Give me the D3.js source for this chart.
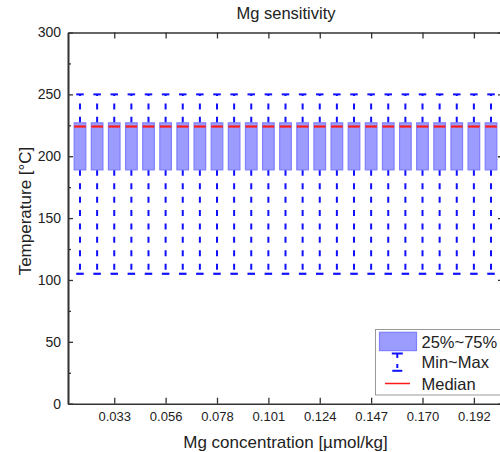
<!DOCTYPE html>
<html>
<head>
<meta charset="utf-8">
<script src="https://cdn.jsdelivr.net/npm/d3@7"></script>
<style>
  html, body { margin: 0; padding: 0; background: #fff; }
  svg { display: block; }
  text { font-family: "Liberation Sans", Arial, sans-serif; fill: #222; }
</style>
</head>
<body>
<div id="chart"></div>
<script>
// Mg concentration levels (µmol/kg), one box per level
const concentrations = ["0.018","0.025","0.033","0.041","0.048","0.056","0.063","0.071","0.078",
  "0.086","0.094","0.101","0.109","0.116","0.124","0.132","0.139","0.147","0.155","0.162",
  "0.170","0.177","0.185","0.192","0.200"];
// Labelled concentration ticks on the x axis
const tickLabels = ["0.033","0.056","0.078","0.101","0.124","0.147","0.170","0.192"];

// Temperature statistics (°C) for each concentration level
const minValues    = [105,105,105,105,105,105,105,105,105,105,105,105,105,105,105,105,105,105,105,105,105,105,105,105,105];
const q1Values     = [189,189,189,189,189,189,189,189,189,189,189,189,189,189,189,189,189,189,189,189,189,189,189,189,189];
const medianValues = [224,224,224,224,224,224,224,224,224,224,224,224,224,224,224,224,224,224,224,224,224,224,224,224,224];
const q3Values     = [227,227,227,227,227,227,227,227,227,227,227,227,227,227,227,227,227,227,227,227,227,227,227,227,227];
const maxValues    = [250,250,250,250,250,250,250,250,250,250,250,250,250,250,250,250,250,250,250,250,250,250,250,250,250];

const yTicks = [0, 50, 100, 150, 200, 250, 300];
const yMinorTicks = [25, 75, 125, 175, 225, 275];

const W = 500, H = 452;
const plot = { left: 68, right: 503, top: 32.5, bottom: 403.7 };

const rows = concentrations.map((c, i) => ({
  c, min: minValues[i], q1: q1Values[i], med: medianValues[i], q3: q3Values[i], max: maxValues[i]
}));

const svg = d3.select("#chart").append("svg").attr("width", W).attr("height", H);

const x = d3.scalePoint().domain(concentrations).range([plot.left, plot.right]).padding(0.7);
const y = d3.scaleLinear().domain([0, 300]).range([plot.bottom, plot.top]);

const boxW = 11.6, capW = 7.5;
const boxFill = "#9c9cff", boxStroke = "#7f7fff", whiskerColor = "#1010ff", medianColor = "#ff1a1a";

// Whiskers (dashed) with short caps
const g = svg.append("g");
g.selectAll("line.wtop").data(rows).join("line")
  .attr("class", "wtop")
  .attr("x1", d => x(d.c)).attr("x2", d => x(d.c))
  .attr("y1", d => y(d.q3)).attr("y2", d => y(d.max))
  .attr("stroke", whiskerColor).attr("stroke-width", 2).attr("stroke-dasharray", "6 7.4");
g.selectAll("line.wbot").data(rows).join("line")
  .attr("class", "wbot")
  .attr("x1", d => x(d.c)).attr("x2", d => x(d.c))
  .attr("y1", d => y(d.q1)).attr("y2", d => y(d.min))
  .attr("stroke", whiskerColor).attr("stroke-width", 2).attr("stroke-dasharray", "6 7.4");
g.selectAll("line.ctop").data(rows).join("line")
  .attr("class", "ctop")
  .attr("x1", d => x(d.c) - capW / 2).attr("x2", d => x(d.c) + capW / 2)
  .attr("y1", d => y(d.max)).attr("y2", d => y(d.max))
  .attr("stroke", whiskerColor).attr("stroke-width", 2);
g.selectAll("line.cbot").data(rows).join("line")
  .attr("class", "cbot")
  .attr("x1", d => x(d.c) - capW / 2).attr("x2", d => x(d.c) + capW / 2)
  .attr("y1", d => y(d.min)).attr("y2", d => y(d.min))
  .attr("stroke", whiskerColor).attr("stroke-width", 2.2);

// Interquartile boxes
g.selectAll("rect.box").data(rows).join("rect")
  .attr("class", "box")
  .attr("x", d => x(d.c) - boxW / 2).attr("width", boxW)
  .attr("y", d => y(d.q3)).attr("height", d => y(d.q1) - y(d.q3))
  .attr("fill", boxFill).attr("stroke", boxStroke).attr("stroke-width", 1.2);

// Medians
g.selectAll("line.med").data(rows).join("line")
  .attr("class", "med")
  .attr("x1", d => x(d.c) - boxW / 2).attr("x2", d => x(d.c) + boxW / 2)
  .attr("y1", d => y(d.med)).attr("y2", d => y(d.med))
  .attr("stroke", medianColor).attr("stroke-width", 2.2);

// Axes
function styleAxis(sel) {
  sel.select(".domain").attr("stroke", "#333").attr("stroke-width", 1.6);
  sel.selectAll(".tick line").attr("stroke", "#333").attr("stroke-width", 1.3);
}

const axB = svg.append("g").attr("transform", `translate(0,${plot.bottom})`)
  .call(d3.axisBottom(x).tickValues(tickLabels).tickSizeInner(-6).tickSizeOuter(0).tickPadding(8));
axB.selectAll("text").attr("font-size", 13).attr("fill", "#222")
  .attr("font-family", "'Liberation Sans', Arial, sans-serif");
styleAxis(axB);

const axT = svg.append("g").attr("transform", `translate(0,${plot.top})`)
  .call(d3.axisTop(x).tickValues(tickLabels).tickSizeInner(-6).tickSizeOuter(0).tickFormat(""));
styleAxis(axT);

const axL = svg.append("g").attr("transform", `translate(${plot.left},0)`)
  .call(d3.axisLeft(y).tickValues(yTicks).tickSizeInner(-5).tickSizeOuter(0).tickPadding(7));
axL.selectAll("text").attr("font-size", 14).attr("fill", "#222")
  .attr("font-family", "'Liberation Sans', Arial, sans-serif");
styleAxis(axL);
const axLm = svg.append("g").attr("transform", `translate(${plot.left},0)`)
  .call(d3.axisLeft(y).tickValues(yMinorTicks).tickSizeInner(-3).tickSizeOuter(0).tickFormat(""));
styleAxis(axLm);

const axR = svg.append("g").attr("transform", `translate(${plot.right},0)`)
  .call(d3.axisRight(y).tickValues(yTicks).tickSizeInner(-5).tickSizeOuter(0).tickFormat(""));
styleAxis(axR);
const axRm = svg.append("g").attr("transform", `translate(${plot.right},0)`)
  .call(d3.axisRight(y).tickValues(yMinorTicks).tickSizeInner(-3).tickSizeOuter(0).tickFormat(""));
styleAxis(axRm);

// Titles
svg.append("text").attr("x", 286).attr("y", 18.5).attr("text-anchor", "middle")
  .attr("font-size", 16.5).text("Mg sensitivity");
svg.append("text").attr("x", 285.5).attr("y", 447.5).attr("text-anchor", "middle")
  .attr("font-size", 17).text("Mg concentration [µmol/kg]");
svg.append("text").attr("transform", "translate(31,211) rotate(-90)").attr("text-anchor", "middle")
  .attr("font-size", 17).text("Temperature [°C]");

// Legend
const lg = svg.append("g");
lg.append("rect").attr("x", 375.5).attr("y", 329.5).attr("width", 140).attr("height", 65.5)
  .attr("fill", "#fff").attr("stroke", "#999").attr("stroke-width", 1);
lg.append("rect").attr("x", 379.5).attr("y", 332.3).attr("width", 37).attr("height", 18.3)
  .attr("fill", boxFill).attr("stroke", boxStroke).attr("stroke-width", 1.2);
const wx = 397.3;
lg.append("line").attr("x1", wx - 5.5).attr("x2", wx + 5.5).attr("y1", 353.5).attr("y2", 353.5)
  .attr("stroke", whiskerColor).attr("stroke-width", 2);
lg.append("line").attr("x1", wx).attr("x2", wx).attr("y1", 354).attr("y2", 370)
  .attr("stroke", whiskerColor).attr("stroke-width", 2).attr("stroke-dasharray", "4 6");
lg.append("line").attr("x1", wx - 5).attr("x2", wx + 5).attr("y1", 370.8).attr("y2", 370.8)
  .attr("stroke", whiskerColor).attr("stroke-width", 2);
lg.append("line").attr("x1", 385).attr("x2", 410).attr("y1", 383.5).attr("y2", 383.5)
  .attr("stroke", medianColor).attr("stroke-width", 1.5);
const legendLabels = ["25%~75%", "Min~Max", "Median"];
const legendBaselines = [347.7, 368.3, 390];
legendLabels.forEach((t, i) => {
  lg.append("text").attr("x", 421.5).attr("y", legendBaselines[i]).attr("font-size", 16.5).text(t);
});
</script>
</body>
</html>
